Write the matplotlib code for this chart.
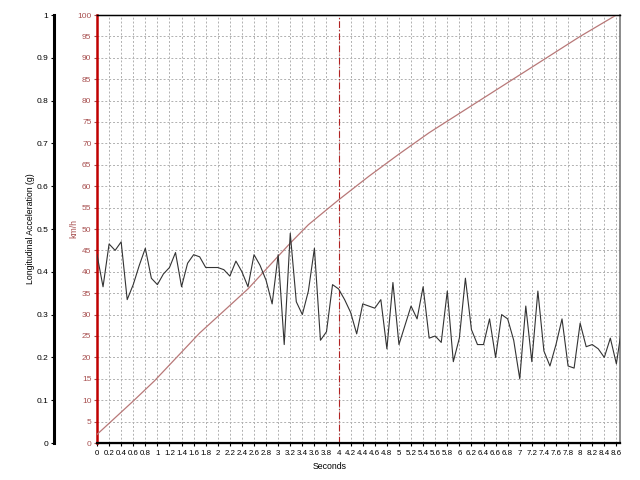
import numpy as np
import matplotlib.pyplot as plt

plt.rcParams['font.family'] = ['Liberation Sans', 'DejaVu Sans']

# longitudinal acceleration (g), sampled every 0.1 s
accel_g = [0.44, 0.365, 0.465, 0.45, 0.47, 0.335, 0.37, 0.415, 0.455, 0.385,
           0.37, 0.395, 0.41, 0.445, 0.365, 0.42, 0.44, 0.435, 0.41, 0.41,
           0.41, 0.405, 0.39, 0.425, 0.40, 0.365, 0.44, 0.415, 0.38, 0.325,
           0.44, 0.23, 0.49, 0.33, 0.30, 0.355, 0.455, 0.24, 0.26, 0.37,
           0.36, 0.335, 0.305, 0.255, 0.325, 0.32, 0.315, 0.335, 0.22, 0.375,
           0.23, 0.275, 0.32, 0.29, 0.365, 0.245, 0.25, 0.235, 0.355, 0.19,
           0.245, 0.385, 0.265, 0.23, 0.23, 0.29, 0.20, 0.30, 0.29, 0.24,
           0.15, 0.32, 0.19, 0.355, 0.215, 0.18, 0.23, 0.29, 0.18, 0.175,
           0.28, 0.225, 0.23, 0.22, 0.20, 0.245, 0.185, 0.28]
accel_t = np.arange(len(accel_g)) * 0.1

# vehicle speed (km/h)
speed_t = [0, 0.6, 0.95, 1.7, 2.5, 3.2, 3.5, 4.0, 4.5, 5.0, 5.5, 6.0, 6.5,
           7.0, 7.5, 8.0, 8.6]
speed_kmh = [2, 9.8, 14.5, 25.7, 36, 46.7, 51, 56.8, 62.3, 67.5, 72.5,
             77, 81.5, 86, 90.5, 95, 100]

marker_t = 4.0
xticks = np.round(np.arange(0, 8.61, 0.2), 1)
gticks = np.round(np.arange(0, 1.01, 0.1), 1)

red = '#b22222'
axis_red = '#a85050'

fig = plt.figure(figsize=(6.4, 4.8), dpi=100)
ax = fig.add_axes([97 / 640, 37 / 480, 523 / 640, 428 / 480])

# speed axis (host)
ax.plot(speed_t, speed_kmh, color='#b87878', lw=0.9, zorder=3)
ax.axvline(marker_t, color=red, lw=0.8, ls=(0, (6, 2, 1, 2)), zorder=2)
ax.set_xlim(0, 8.66)
ax.set_ylim(0, 100)
ax.set_yticks(np.arange(0, 101, 5))
ax.set_xticks(xticks)
ax.set_xticklabels([f"{v:g}" for v in xticks])
ax.tick_params(axis='x', labelsize=5.7, length=2, pad=3)
ax.tick_params(axis='y', labelsize=6, length=2, pad=2, colors=axis_red)
ax.grid(True, color='#b0b0b0', ls=(0, (2, 2)), lw=0.7)
ax.set_axisbelow(True)
ax.set_xlabel('Seconds', fontsize=6.3, labelpad=1)
ax.xaxis.set_label_coords(0.445, -0.045)
ax.set_ylabel('km/h', fontsize=6.3, color=axis_red, labelpad=-1)
ax.spines['left'].set_color('#c00000')
ax.spines['left'].set_linewidth(1.8)
ax.spines['bottom'].set_linewidth(1.6)
ax.spines['top'].set_linewidth(1.0)
ax.spines['right'].set_color('#777777')
ax.spines['right'].set_linewidth(1.2)

# acceleration axis
ax2 = ax.twinx()
ax2.plot(accel_t, accel_g, color='#333333', lw=0.8, zorder=4)
ax2.set_ylim(0, 1)
ax2.set_yticks(gticks)
ax2.set_yticklabels([f"{v:g}" for v in gticks])
ax2.yaxis.set_ticks_position('left')
ax2.yaxis.set_label_position('left')
ax2.spines['left'].set_position(('outward', 31))
ax2.spines['left'].set_linewidth(2.2)
ax2.spines['right'].set_visible(False)
ax2.tick_params(axis='y', labelsize=6, length=2, pad=2)
ax2.set_ylabel('Longitudinal Acceleration (g)', fontsize=6.3, labelpad=1)

fig.savefig('out.png', dpi=100)
